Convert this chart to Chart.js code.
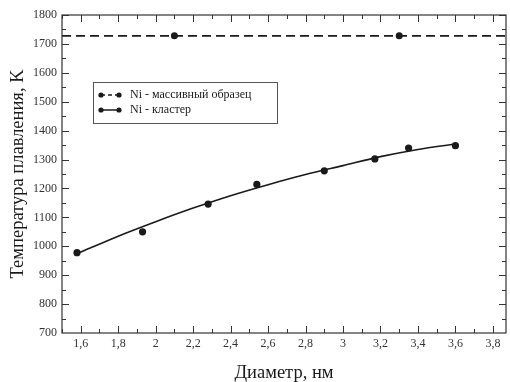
<!DOCTYPE html>
<html>
<head>
<meta charset="utf-8">
<script src="https://cdn.jsdelivr.net/npm/chart.js@4"></script>
<style>
  html, body { margin: 0; padding: 0; background: #fff; }
  #wrap { width: 510px; height: 382px; }
</style>
</head>
<body>
<div id="wrap"><canvas id="chart" width="510" height="382"></canvas></div>
<script>
// оси
const xMin = 1.5;
const xMax = 3.87;
const yMin = 700;
const yMax = 1800;
const xTicks = [1.6, 1.8, 2.0, 2.2, 2.4, 2.6, 2.8, 3.0, 3.2, 3.4, 3.6, 3.8];
const yTicks = [700, 800, 900, 1000, 1100, 1200, 1300, 1400, 1500, 1600, 1700, 1800];

// Ni - массивный образец (1728 K)
const bulkX = [1.5, 2.1, 3.3, 3.87];
const bulkY = [1728, 1728, 1728, 1728];
const bulkMarks = [false, true, true, false];

// Ni - кластер
const clusterX = [1.58, 1.93, 2.28, 2.54, 2.90, 3.17, 3.35, 3.60];
const clusterY = [978, 1050, 1146, 1214, 1261, 1302, 1340, 1348];

// аппроксимирующая кривая
const fitX = [1.58, 1.8, 2.0, 2.2, 2.4, 2.6, 2.8, 3.0, 3.2, 3.4, 3.6];
const fitY = [974, 1035, 1085, 1132, 1175, 1213, 1248, 1279, 1310, 1335, 1354];

const serif = '"Liberation Serif", "DejaVu Serif", serif';
const ink = '#1a1a1a';

function toPoints(xs, ys) {
    return xs.map((x, i) => ({ x: x, y: ys[i] }));
}

// рамка и внутренние засечки со всех сторон
const frameTicks = {
    id: 'frameTicks',
    afterDatasetsDraw(chart) {
        const { ctx, chartArea: a, scales } = chart;
        const xs = scales.x, ys = scales.y;
        ctx.save();
        ctx.strokeStyle = '#333';
        ctx.lineWidth = 1.2;
        ctx.strokeRect(a.left, a.top, a.right - a.left, a.bottom - a.top);

        ctx.lineWidth = 1;
        ctx.beginPath();
        const xMarks = [];
        xTicks.forEach((v, i) => {
            xMarks.push([v, 7]);
            if (i < xTicks.length - 1) xMarks.push([(v + xTicks[i + 1]) / 2, 4]);
        });
        xMarks.push([xTicks[0] - 0.1, 4]);
        xMarks.forEach(([v, len]) => {
            const px = Math.round(xs.getPixelForValue(v)) + 0.5;
            if (px <= a.left || px >= a.right) return;
            ctx.moveTo(px, a.bottom); ctx.lineTo(px, a.bottom - len);
            ctx.moveTo(px, a.top); ctx.lineTo(px, a.top + len);
        });
        const yMarks = [];
        yTicks.forEach((v, i) => {
            yMarks.push([v, 7]);
            if (i < yTicks.length - 1) yMarks.push([(v + yTicks[i + 1]) / 2, 4]);
        });
        yMarks.forEach(([v, len]) => {
            const py = Math.round(ys.getPixelForValue(v)) + 0.5;
            if (py <= a.top || py >= a.bottom) return;
            ctx.moveTo(a.left, py); ctx.lineTo(a.left + len, py);
            ctx.moveTo(a.right, py); ctx.lineTo(a.right - len, py);
        });
        ctx.stroke();
        ctx.restore();
    }
};

// легенда в рамке, как на рисунке
const boxLegend = {
    id: 'boxLegend',
    afterDraw(chart) {
        const { ctx } = chart;
        const items = [
            { text: 'Ni - массивный образец', dash: [4, 3] },
            { text: 'Ni - кластер', dash: [] }
        ];
        const bx = 93, by = 82, bw = 184, bh = 41;
        ctx.save();
        ctx.fillStyle = '#fff';
        ctx.fillRect(bx, by, bw, bh);
        ctx.strokeStyle = '#555';
        ctx.lineWidth = 1;
        ctx.strokeRect(bx + 0.5, by + 0.5, bw, bh);
        items.forEach((it, i) => {
            const y = by + 13 + i * 15;
            ctx.strokeStyle = ink;
            ctx.lineWidth = 1.5;
            ctx.setLineDash(it.dash);
            ctx.beginPath();
            ctx.moveTo(101, y); ctx.lineTo(119, y);
            ctx.stroke();
            ctx.setLineDash([]);
            ctx.fillStyle = ink;
            [101, 119].forEach(cx => {
                ctx.beginPath();
                ctx.arc(cx, y, 2.6, 0, Math.PI * 2);
                ctx.fill();
            });
            ctx.font = '12px ' + serif;
            ctx.textBaseline = 'middle';
            ctx.fillText(it.text, 130, y);
        });
        ctx.restore();
    }
};

new Chart(document.getElementById('chart'), {
    type: 'scatter',
    data: {
        datasets: [
            {
                label: 'Ni - массивный образец',
                data: toPoints(bulkX, bulkY),
                showLine: true,
                borderColor: ink,
                borderWidth: 1.7,
                borderDash: [9, 5],
                pointRadius: bulkMarks.map(m => m ? 3.5 : 0),
                pointBackgroundColor: ink,
                pointBorderWidth: 0
            },
            {
                label: 'Ni - кластер',
                data: toPoints(clusterX, clusterY),
                showLine: false,
                pointRadius: 3.6,
                pointBackgroundColor: ink,
                pointBorderWidth: 0
            },
            {
                label: 'fit',
                data: toPoints(fitX, fitY),
                showLine: true,
                borderColor: ink,
                borderWidth: 1.6,
                tension: 0.4,
                cubicInterpolationMode: 'monotone',
                pointRadius: 0
            }
        ]
    },
    plugins: [frameTicks, boxLegend],
    options: {
        responsive: false,
        animation: false,
        layout: { padding: { top: 15, right: 1, left: 0, bottom: 0 } },
        plugins: {
            legend: { display: false },
            tooltip: { enabled: false }
        },
        scales: {
            x: {
                type: 'linear',
                min: xMin,
                max: xMax,
                grid: { display: false, drawTicks: false },
                border: { display: false },
                afterBuildTicks: (s) => { s.ticks = xTicks.map(v => ({ value: v })); },
                afterFit: (s) => { s.height = 49; },
                ticks: {
                    padding: 4,
                    color: '#333',
                    font: { family: serif, size: 12 },
                    callback: (v) => String(Math.round(v * 10) / 10).replace('.', ',')
                },
                title: {
                    display: true,
                    text: 'Диаметр, нм',
                    color: ink,
                    font: { family: serif, size: 18.5, lineHeight: 1.0 },
                    padding: { top: 0, bottom: 0 }
                }
            },
            y: {
                type: 'linear',
                min: yMin,
                max: yMax,
                grid: { display: false, drawTicks: false },
                border: { display: false },
                afterBuildTicks: (s) => { s.ticks = yTicks.map(v => ({ value: v })); },
                afterFit: (s) => { s.width = 62; },
                ticks: {
                    padding: 5,
                    color: '#333',
                    font: { family: serif, size: 12 },
                    callback: (v) => String(v)
                },
                title: {
                    display: true,
                    text: 'Температура плавления, K',
                    color: ink,
                    font: { family: serif, size: 18.5, lineHeight: 1.0 },
                    padding: { top: 9, bottom: 0 }
                }
            }
        }
    }
});
</script>
</body>
</html>
